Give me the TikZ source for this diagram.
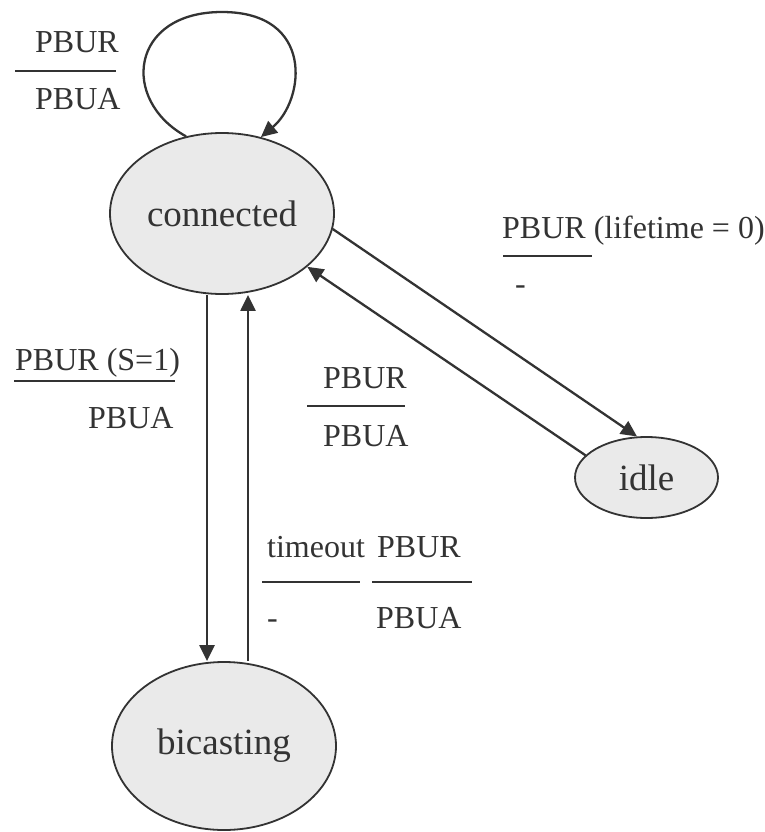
\documentclass[tikz,border=0pt]{standalone}
\usepackage{fontspec}
\setmainfont{Liberation Serif}
\usetikzlibrary{arrows.meta,shapes.geometric}
\definecolor{ink}{HTML}{333333}
\definecolor{statefill}{HTML}{EAEAEA}
\begin{document}
\begin{tikzpicture}[x=1pt,y=-1pt,
  state/.style={ellipse, draw=ink, line width=1.8pt, fill=statefill, inner sep=0pt,
    font=\fontsize{37}{44}\selectfont, text=ink},
  trans/.style={draw=ink, line width=2.3pt, -{Triangle[length=16pt,width=15pt]}},
  lbl/.style={inner sep=0pt, anchor=base west, font=\fontsize{32}{38}\selectfont, text=ink},
  bar/.style={draw=ink, line width=2.2pt}]
\useasboundingbox (0,0) rectangle (765,832);

% states
\node[state, minimum width=224pt, minimum height=161pt] (connected) at (222,213.5) {connected};
\node[state, minimum width=143pt, minimum height=81pt] (idle) at (646.5,477.5) {idle};
\node[state, minimum width=224pt, minimum height=168pt] (bicasting) at (224,746) {bicasting};

% guide columns for the vertical transitions
\coordinate (downx) at (207,0);
\coordinate (upx) at (248,0);
\coordinate (looptop) at (222,12);

% transitions
\draw[trans] (connected.115.6) .. controls (120,100) and (130,12) .. (looptop)
  .. controls (315,12) and (305,100) .. (connected.63.9);
\draw[trans] (connected.south -| downx) -- (bicasting.north -| downx);
\draw[trans] (bicasting.north -| upx) -- (connected.south -| upx);
\draw[trans] (connected.352.6) -- (idle.103.2);
\draw[trans] (idle.160.7) -- (connected.328.1);

% self loop label
\node[lbl] (l1a) at (35,53) {PBUR};
\draw[bar] (15,71) -- (116,71);
\node[lbl] (l1b) at (35,110) {PBUA};

% connected -> idle label
\node[lbl] (l2a) at (502,238) {PBUR (lifetime = 0)};
\draw[bar] (503,256) -- (592,256);
\node[lbl] (l2b) at (515,294) {-};

% idle -> connected label
\node[lbl] (l3a) at (323,388) {PBUR};
\draw[bar] (307,406) -- (405,406);
\node[lbl] (l3b) at (323,446) {PBUA};

% connected -> bicasting label
\node[lbl] (l4a) at (15,370) {PBUR (S=1)};
\draw[bar] (14,381) -- (175,381);
\node[lbl] (l4b) at (88,428) {PBUA};

% bicasting -> connected labels
\node[lbl] (l5a) at (267,557) {timeout};
\draw[bar] (262,582) -- (360,582);
\node[lbl] (l5b) at (267,628) {-};
\node[lbl] (l6a) at (377,557) {PBUR};
\draw[bar] (372,582) -- (472,582);
\node[lbl] (l6b) at (376,628) {PBUA};
\end{tikzpicture}
\end{document}
